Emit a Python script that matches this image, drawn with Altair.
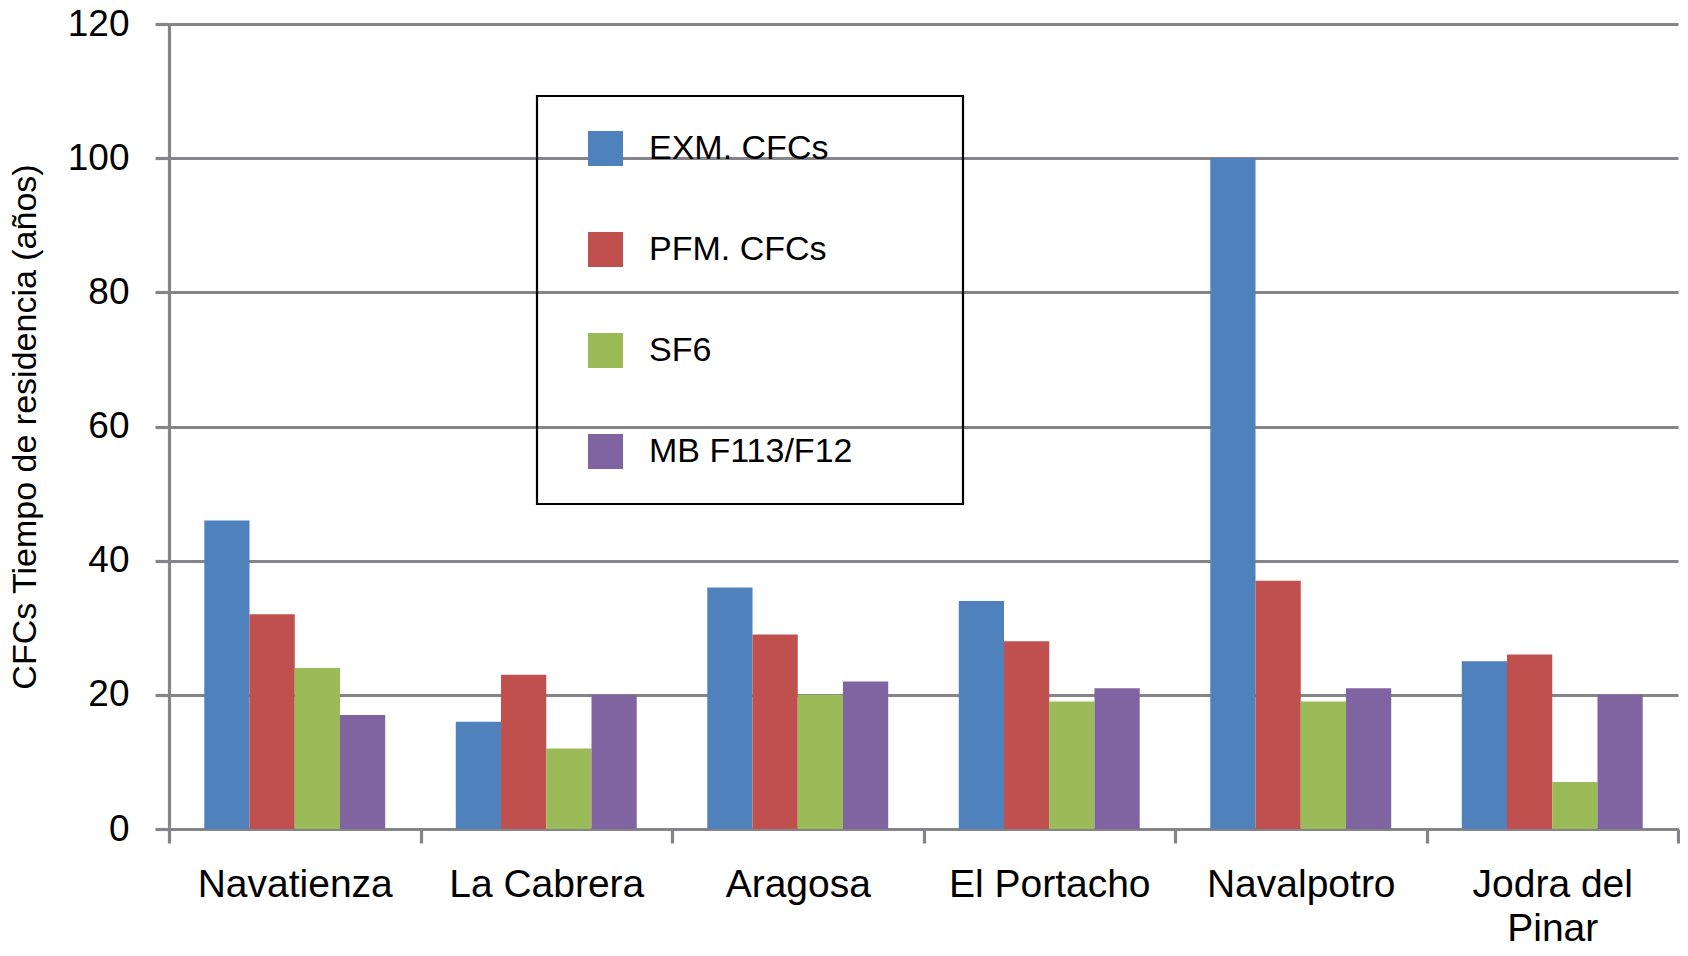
import altair as alt
import pandas as pd

sites = ["Navatienza", "La Cabrera", "Aragosa", "El Portacho", "Navalpotro", "Jodra del Pinar"]
series = ["EXM. CFCs", "PFM. CFCs", "SF6", "MB F113/F12"]
exm = [46, 16, 36, 34, 100, 25]
pfm = [32, 23, 29, 28, 37, 26]
sf6 = [24, 12, 20, 19, 19, 7]
mb = [17, 20, 22, 21, 21, 20]
colors = ["#4F81BD", "#C0504D", "#9BBB59", "#8064A2"]
y_ticks = [0, 20, 40, 60, 80, 100, 120]

rows = []
for s, vals in zip(series, [exm, pfm, sf6, mb]):
    for site, v in zip(sites, vals):
        rows.append({"site": site, "serie": s, "value": v})
df = pd.DataFrame(rows)

FONT = "Liberation Sans"
GRAY = "#858589"
pad = "\u2800" * 3

chart = alt.Chart(df).mark_bar().encode(
    x=alt.X(
        "site:N",
        sort=sites,
        scale=alt.Scale(paddingInner=0, paddingOuter=0),
        axis=alt.Axis(
            title=None,
            labelAngle=0,
            tickBand="extent",
            labelExpr="datum.label == 'Jodra del Pinar' ? ['Jodra del', 'Pinar'] : datum.label",
            labelFontSize=39,
            labelLineHeight=44,
            labelPadding=22,
            tickSize=14,
            labelLimit=400,
        ),
    ),
    xOffset=alt.XOffset(
        "serie:N", sort=series, scale=alt.Scale(paddingOuter=0.78, paddingInner=0)
    ),
    y=alt.Y(
        "value:Q",
        scale=alt.Scale(domain=[0, 120], nice=False),
        axis=alt.Axis(
            values=y_ticks,
            title="CFCs Tiempo de residencia (años)",
            titleFontSize=34,
            titleFontWeight="normal",
            titlePadding=25,
            labelFontSize=37,
            labelPadding=26,
            tickSize=14,
            grid=True,
        ),
    ),
    color=alt.Color(
        "serie:N",
        sort=series,
        scale=alt.Scale(domain=series, range=colors),
        legend=alt.Legend(
            title=None,
            orient="none",
            legendX=368,
            legendY=72,
            symbolType="square",
            symbolSize=1225,
            symbolStrokeWidth=0,
            symbolOffset=16,
            labelFontSize=34,
            labelOffset=26,
            labelLimit=600,
            rowPadding=66,
            padding=35,
            strokeColor="black",
            labelExpr="datum.label + '" + pad + "'",
        ),
    ),
).properties(
    width=1672,
    height=940,
    padding={"top": -3, "bottom": 0, "left": 0, "right": 0},
    autosize=alt.AutoSizeParams(type="fit", contains="padding"),
).configure_view(
    stroke=None
).configure_axis(
    labelFont=FONT,
    titleFont=FONT,
    labelColor="black",
    titleColor="black",
    domainColor=GRAY,
    domainWidth=3.2,
    tickColor=GRAY,
    tickWidth=3.2,
    gridColor=GRAY,
    gridWidth=3.2,
    gridOpacity=1,
).configure_legend(
    labelFont=FONT,
    labelColor="black",
    strokeWidth=2.2,
)

chart.save("out.html", embed_options={"renderer": "svg", "actions": False})
